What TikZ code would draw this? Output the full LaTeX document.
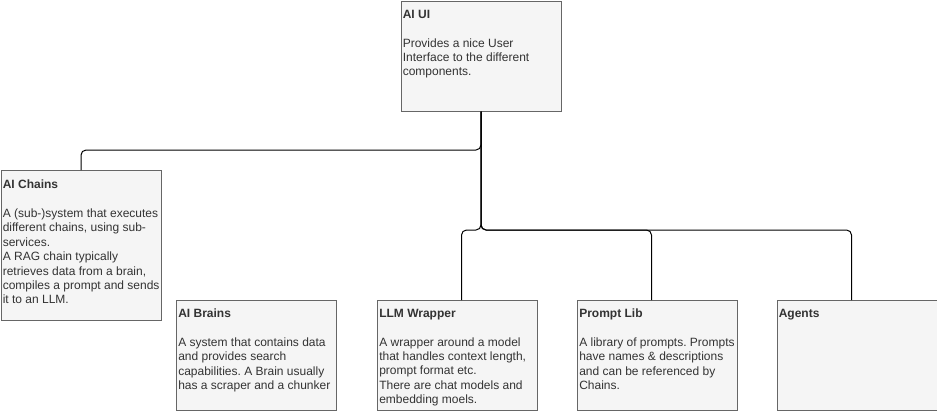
\documentclass[tikz,border=0pt]{standalone}
\usepackage{fontspec}
\setmainfont{Liberation Sans}
\frenchspacing
\definecolor{boxfill}{HTML}{F5F5F5}
\definecolor{boxline}{HTML}{666666}
\definecolor{txtcol}{HTML}{333333}
\begin{document}
\frenchspacing
\begin{tikzpicture}[x=0.75pt,y=-0.75pt,
  box/.style={draw=boxline, fill=boxfill, line width=0.75pt, minimum width=120pt, minimum height=82.5pt, anchor=north west, inner sep=0pt},
  tallbox/.style={box, minimum height=112.5pt},
  txt/.style={anchor=north west, inner sep=0pt, align=left, font=\fontsize{9}{10.8}\selectfont\frenchspacing, text=txtcol},
  link/.style={draw=black, line width=0.75pt, rounded corners=3.75pt}]
\useasboundingbox (0,0) rectangle (937,412);
% boxes
\node[box] (ui) at (400.5,0.5) {};
\node[tallbox] (chains) at (0.5,170) {};
\node[box] (brains) at (176,300) {};
\node[box] (llm) at (377,300) {};
\node[box] (prompt) at (577,300) {};
\node[box] (agents) at (776.5,300) {};
% texts
\node[txt] (uit) at (402.5,9.7) {\textbf{AI UI}\\[10.8pt]Provides a nice User\\Interface to the different\\components.};
\node[txt] (chainst) at (2.5,179.7) {\textbf{AI Chains}\\[10.8pt]A (sub-)system that executes\\different chains, using sub-\\services.\\A RAG chain typically\\retrieves data from a brain,\\compiles a prompt and sends\\it to an LLM.};
\node[txt] (brainst) at (178,308.7) {\textbf{AI Brains}\\[10.8pt]A system that contains data\\and provides search\\capabilities. A Brain usually\\has a scraper and a chunker};
\node[txt] (llmt) at (379,308.7) {\textbf{LLM Wrapper}\\[10.8pt]A wrapper around a model\\that handles context length,\\prompt format etc.\\There are chat models and\\embedding moels.};
\node[txt] (promptt) at (579,308.7) {\textbf{Prompt Lib}\\[10.8pt]A library of prompts. Prompts\\have names \& descriptions\\and can be referenced by\\Chains.};
\node[txt] (agentst) at (778.5,308.7) {\textbf{Agents}};
% junction levels
\coordinate (jA) at (0,150);
\coordinate (jB) at (0,230);
% connectors
\draw[link] (ui.south) -- (ui.south |- jA) -| (chains.north);
\draw[link] (ui.south) -- (ui.south |- jB) -| ([xshift=3pt]llm.north);
\draw[link] (ui.south) -- (ui.south |- jB) -| ([xshift=-4.5pt]prompt.north);
\draw[link] (ui.south) -- (ui.south |- jB) -| ([xshift=-4.1pt]agents.north);
\end{tikzpicture}
\end{document}
